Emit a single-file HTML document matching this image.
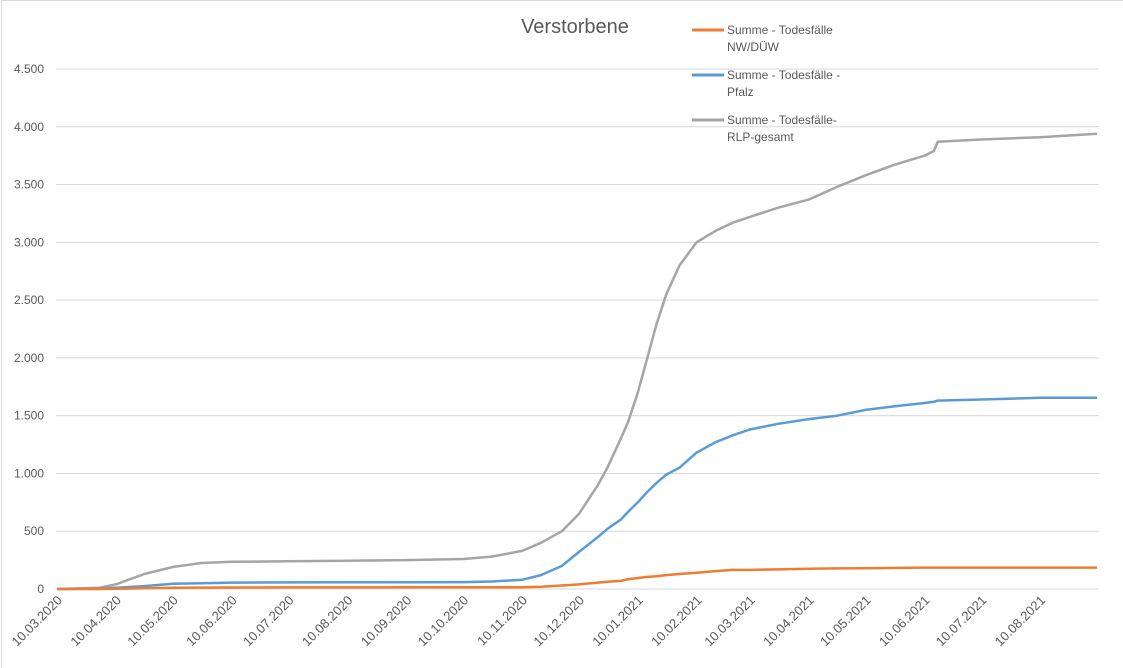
<!DOCTYPE html>
<html><head><meta charset="utf-8"><style>
html,body{margin:0;padding:0;background:#fff;}
svg{display:block;font-family:"Liberation Sans",sans-serif;}
</style></head><body>
<svg id="chart" width="1123" height="668">
<rect x="1.5" y="0.5" width="1130" height="680" fill="#fff" stroke="#d9d9d9"/>
<text x="575" y="33" text-anchor="middle" font-size="20" fill="#595959">Verstorbene</text>
<g id="grid"></g><g id="yticks"></g><g id="xticks"></g><g id="series"></g>
<g>
<g><line x1="692" y1="30" x2="724" y2="30" stroke="#ed7d31" stroke-width="3"/><text x="727" y="34" font-size="12" fill="#595959">Summe - Todesfälle</text><text x="727" y="51" font-size="12" fill="#595959">NW/DÜW</text></g>
<g><line x1="692" y1="75" x2="724" y2="75" stroke="#5b9bd5" stroke-width="3"/><text x="727" y="79" font-size="12" fill="#595959">Summe - Todesfälle -</text><text x="727" y="96" font-size="12" fill="#595959">Pfalz</text></g>
<g><line x1="692" y1="120" x2="724" y2="120" stroke="#a5a5a5" stroke-width="3"/><text x="727" y="124" font-size="12" fill="#595959">Summe - Todesfälle-</text><text x="727" y="141" font-size="12" fill="#595959">RLP-gesamt</text></g>
</g>
</svg>
<script>
const dates=["2020-03-10","2020-04-01","2020-04-10","2020-04-25","2020-05-10","2020-05-25","2020-06-10","2020-07-10","2020-08-10","2020-09-10","2020-10-10","2020-10-25","2020-11-10","2020-11-20","2020-12-01","2020-12-10","2020-12-20","2020-12-25","2021-01-01","2021-01-05","2021-01-10","2021-01-15","2021-01-20","2021-01-25","2021-02-01","2021-02-10","2021-02-20","2021-03-01","2021-03-10","2021-03-25","2021-04-10","2021-04-25","2021-05-10","2021-05-25","2021-06-10","2021-06-15","2021-06-17","2021-07-10","2021-08-10","2021-09-09"];
const rlp=[0,10,40,130,190,225,235,240,245,250,260,280,330,400,500,650,900,1050,1300,1450,1700,2000,2300,2550,2800,3000,3100,3170,3220,3300,3370,3480,3580,3670,3750,3790,3870,3890,3910,3940];
const pfalz=[0,3,10,25,45,50,55,57,58,59,60,65,80,120,200,320,450,520,600,670,750,840,920,990,1050,1180,1270,1330,1380,1430,1470,1500,1550,1580,1610,1620,1630,1640,1655,1655];
const nwduew=[0,0,2,6,10,12,13,14,14,15,15,15,15,20,30,40,55,62,70,85,95,105,110,120,130,140,155,165,165,170,175,178,180,183,185,185,185,185,185,185];
const yTicks=[0,500,1000,1500,2000,2500,3000,3500,4000,4500];
const yTickLabels=["0","500","1.000","1.500","2.000","2.500","3.000","3.500","4.000","4.500"];
const xTickDates=["2020-03-10","2020-04-10","2020-05-10","2020-06-10","2020-07-10","2020-08-10","2020-09-10","2020-10-10","2020-11-10","2020-12-10","2021-01-10","2021-02-10","2021-03-10","2021-04-10","2021-05-10","2021-06-10","2021-07-10","2021-08-10"];
const xTickLabels=["10.03.2020","10.04.2020","10.05.2020","10.06.2020","10.07.2020","10.08.2020","10.09.2020","10.10.2020","10.11.2020","10.12.2020","10.01.2021","10.02.2021","10.03.2021","10.04.2021","10.05.2021","10.06.2021","10.07.2021","10.08.2021"];

const NS="http://www.w3.org/2000/svg";
const t0=Date.parse("2020-03-10"),day=86400000,pxDay=1.898,X0=57,Y0=589,pxUnit=(589-69)/4500;
const xs=d=>X0+(Date.parse(d)-t0)/day*pxDay;
const ys=v=>Y0-v*pxUnit;
function mk(tag,attrs,parent){const e=document.createElementNS(NS,tag);for(const k in attrs)e.setAttribute(k,attrs[k]);parent.appendChild(e);return e;}
const grid=document.getElementById('grid'),yt=document.getElementById('yticks'),xt=document.getElementById('xticks'),ser=document.getElementById('series');
yTicks.forEach((v,i)=>{
  const l=mk('line',{x1:56,x2:1099,y1:ys(v),y2:ys(v),stroke:'#d9d9d9','stroke-width':1},grid);
  
  
  const t=mk('text',{x:44,y:ys(v)+4,'text-anchor':'end','font-size':12,fill:'#595959'},yt);
  t.textContent=yTickLabels[i];
  
  
});
xTickDates.forEach((d,i)=>{
  const x=xs(d)+6,y=601;
  const t=mk('text',{x:x,y:y,'text-anchor':'end','font-size':13,fill:'#595959',transform:`rotate(-45 ${x} ${y})`},xt);
  t.textContent=xTickLabels[i];
  
  
});
[[rlp,'#a5a5a5','series-rlp-gesamt'],[pfalz,'#5b9bd5','series-pfalz'],[nwduew,'#ed7d31','series-nw-duew']].forEach(([vals,col,name])=>{
  const pts=vals.map((v,i)=>xs(dates[i]).toFixed(1)+','+ys(v).toFixed(1)).join(' ');
  const p=mk('polyline',{points:pts,fill:'none',stroke:col,'stroke-width':2.5,'stroke-linejoin':'round'},ser);
  
  
});
</script>
</body></html>
